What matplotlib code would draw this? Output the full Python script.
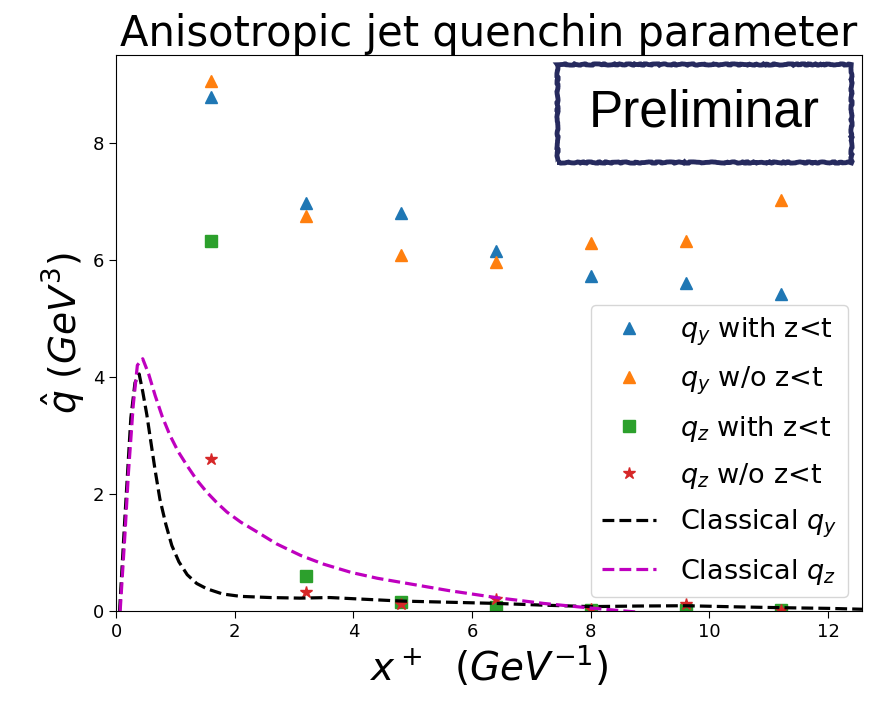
import matplotlib
matplotlib.use("Agg")
import matplotlib.pyplot as plt
from matplotlib.patches import Rectangle

# ---- data ----
x_pts = [1.6, 3.2, 4.8, 6.4, 8.0, 9.6, 11.2]
qy_with = [8.78, 6.97, 6.80, 6.15, 5.72, 5.60, 5.42]
qy_wo = [9.05, 6.75, 6.08, 5.97, 6.28, 6.33, 7.02]
qz_with = [6.32, 0.60, 0.15, 0.07, 0.01, 0.02, 0.01]
qz_wo = [2.60, 0.33, 0.12, 0.20, 0.03, 0.12, 0.01]

cl_qy_x = [0.06, 0.15, 0.25, 0.32, 0.39, 0.45, 0.52, 0.58, 0.66, 0.74, 0.84,
           0.94, 1.06, 1.2, 1.36, 1.53, 1.8, 2.1, 2.6, 3.1, 3.6, 4.2, 4.8,
           5.6, 6.4, 7.2, 8.0, 8.8, 9.6, 10.5, 11.3, 12.0, 12.57]
cl_qy_y = [0.0, 1.6, 3.3, 3.9, 4.05, 3.75, 3.35, 2.94, 2.4, 1.91, 1.48,
           1.12, 0.84, 0.62, 0.47, 0.38, 0.29, 0.25, 0.23, 0.22, 0.23, 0.2, 0.17,
           0.15, 0.13, 0.1, 0.075, 0.085, 0.09, 0.07, 0.055, 0.045, 0.03]

cl_qz_x = [0.07, 0.15, 0.21, 0.29, 0.36, 0.45, 0.55, 0.66, 0.78, 0.91, 1.05,
           1.2, 1.36, 1.53, 1.7, 1.87, 2.1, 2.38, 2.7, 3.11, 3.5, 3.96, 4.4,
           4.8, 5.6, 6.4, 7.2, 8.0, 8.8]
cl_qz_y = [0.0, 1.3, 2.37, 3.51, 4.2, 4.31, 4.05, 3.68, 3.32, 3.0, 2.72,
           2.48, 2.24, 2.03, 1.85, 1.69, 1.52, 1.35, 1.15, 0.95, 0.8, 0.66, 0.56,
           0.49, 0.35, 0.23, 0.13, 0.05, -0.02]

title = "Anisotropic jet quenchin parameter"
labels = [r"$q_y$ with z<t", r"$q_y$ w/o z<t", r"$q_z$ with z<t",
          r"$q_z$ w/o z<t", r"Classical $q_y$", r"Classical $q_z$"]

# ---- figure ----
fig = plt.figure(figsize=(8.79, 7.01), dpi=100)
ax = fig.add_axes([116/879, 1-611/701, (862-116)/879, (611-55)/701])

ms = 9
ax.plot(x_pts, qy_with, '^', color='tab:blue', ms=ms, label=labels[0])
ax.plot(x_pts, qy_wo, '^', color='tab:orange', ms=ms, label=labels[1])
ax.plot(x_pts, qz_with, 's', color='tab:green', ms=ms, label=labels[2])
ax.plot(x_pts, qz_wo, '*', color='tab:red', ms=ms, label=labels[3])
ax.plot(cl_qy_x, cl_qy_y, 'k--', lw=2.3, label=labels[4])
ax.plot(cl_qz_x, cl_qz_y, 'm--', lw=2.3, label=labels[5])

ax.set_xlim(0, 12.57)
ax.set_ylim(0, 9.5)
ax.set_xticks([0, 2, 4, 6, 8, 10, 12])
ax.set_yticks([0, 2, 4, 6, 8])
ax.tick_params(labelsize=13, length=5)

ax.set_title(title, fontsize=30, pad=6)
ax.set_xlabel(r"$x^+\ \ (GeV^{-1})$", fontsize=28, labelpad=2)
ax.set_ylabel(r"$\hat{q}\ (GeV^3)$", fontsize=27)

ax.legend(loc='lower right', fontsize=19.5, labelspacing=0.62,
          handletextpad=0.9, borderaxespad=0.5)

# "Preliminar" stamp
box = Rectangle((557/879, 1-162/701), (851-557)/879, (162-64)/701,
                transform=fig.transFigure, fill=True, facecolor='white',
                edgecolor='#262a5e', lw=3.5, zorder=10)
box.set_sketch_params(scale=0.6, length=20, randomness=10)
fig.patches.append(box)
fig.text(704/879, 1-113/701, "Preliminar", fontsize=37,
         family="Liberation Sans", ha='center', va='center', zorder=11)

fig.savefig("out.png", dpi=100)
